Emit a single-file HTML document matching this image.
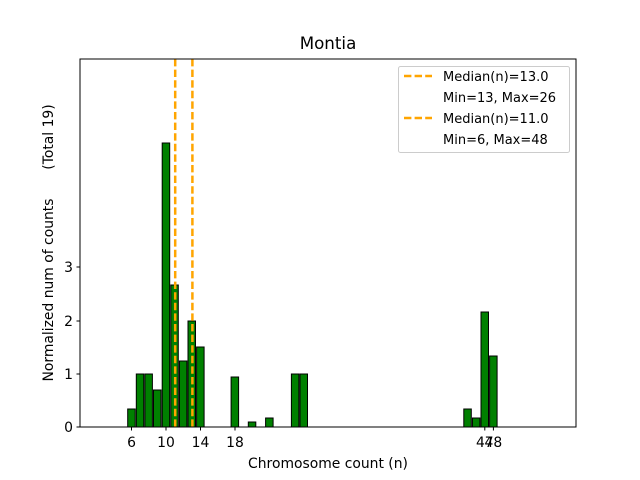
<!DOCTYPE html><html><head><style>body{margin:0;background:#fff}svg{display:block;font-family:"DejaVu Sans","Liberation Sans",sans-serif}</style></head><body>
<svg width="640" height="480" viewBox="0 0 640 480">
<rect width="640" height="480" fill="#fff"/>
<line x1="80" y1="427" x2="333" y2="427" stroke="#000" stroke-width="1"/>
<g fill="#008000" stroke="#000" stroke-width="1">
<rect x="127.7" y="409" width="7.5" height="18"/>
<rect x="136.3" y="374" width="7.5" height="53"/>
<rect x="144.9" y="374" width="7.5" height="53"/>
<rect x="153.5" y="390" width="7.5" height="37"/>
<rect x="162.2" y="143" width="7.5" height="284"/>
<rect x="170.8" y="285" width="7.5" height="142"/>
<rect x="179.4" y="361" width="7.5" height="66"/>
<rect x="188.0" y="321" width="7.5" height="106"/>
<rect x="196.6" y="347" width="7.5" height="80"/>
<rect x="231.1" y="377" width="7.5" height="50"/>
<rect x="248.3" y="422" width="7.5" height="5"/>
<rect x="265.6" y="418" width="7.5" height="9"/>
<rect x="291.4" y="374" width="7.5" height="53"/>
<rect x="300.0" y="374" width="7.5" height="53"/>
<rect x="463.8" y="409" width="7.5" height="18"/>
<rect x="472.4" y="418" width="7.5" height="9"/>
<rect x="481.0" y="312" width="7.5" height="115"/>
<rect x="489.6" y="356" width="7.5" height="71"/>
</g>
<g stroke="#FFA500" stroke-width="2.5" stroke-dasharray="7.4,3.2">
<line x1="175.2" y1="59" x2="175.2" y2="427"/>
<line x1="192.4" y1="59" x2="192.4" y2="427"/>
</g>
<rect x="80" y="59" width="496" height="368" fill="none" stroke="#000" stroke-width="1"/>
<g stroke="#000" stroke-width="1">
<line x1="80" y1="427" x2="76.5" y2="427"/><line x1="80" y1="374" x2="76.5" y2="374"/><line x1="80" y1="321" x2="76.5" y2="321"/><line x1="80" y1="267" x2="76.5" y2="267"/>
<line x1="131.5" y1="427" x2="131.5" y2="430.5"/><line x1="166" y1="427" x2="166" y2="430.5"/><line x1="200.5" y1="427" x2="200.5" y2="430.5"/><line x1="235" y1="427" x2="235" y2="430.5"/><line x1="484.8" y1="427" x2="484.8" y2="430.5"/><line x1="493.4" y1="427" x2="493.4" y2="430.5"/>
</g>
<g font-size="13.9" fill="#000" text-anchor="end">
<text x="73" y="432">0</text><text x="73" y="379">1</text><text x="73" y="326">2</text><text x="73" y="272">3</text>
</g>
<g font-size="13.9" fill="#000" text-anchor="middle">
<text x="131.5" y="447">6</text><text x="166" y="447">10</text><text x="200.5" y="447">14</text><text x="235" y="447">18</text><text x="484.8" y="447">47</text><text x="493.4" y="447">48</text>
<text x="328" y="468">Chromosome count (n)</text>
<text x="328" y="49" font-size="16.7">Montia</text>
<text transform="translate(53,290) rotate(-90)">Normalized num of counts</text>
<text transform="translate(53,137) rotate(-90)">(Total 19)</text>
</g>
<rect x="398.5" y="66.5" width="171" height="86" rx="2" fill="#fff" fill-opacity="0.8" stroke="#ccc"/>
<g stroke="#FFA500" stroke-width="2.5" stroke-dasharray="7.4,3.2"><line x1="404" y1="76" x2="432" y2="76"/><line x1="404" y1="118" x2="432" y2="118"/></g>
<g font-size="13" fill="#000"><text x="443" y="81">Median(n)=13.0</text><text x="443" y="102">Min=13, Max=26</text><text x="443" y="123">Median(n)=11.0</text><text x="443" y="144">Min=6, Max=48</text></g>
</svg></body></html>
